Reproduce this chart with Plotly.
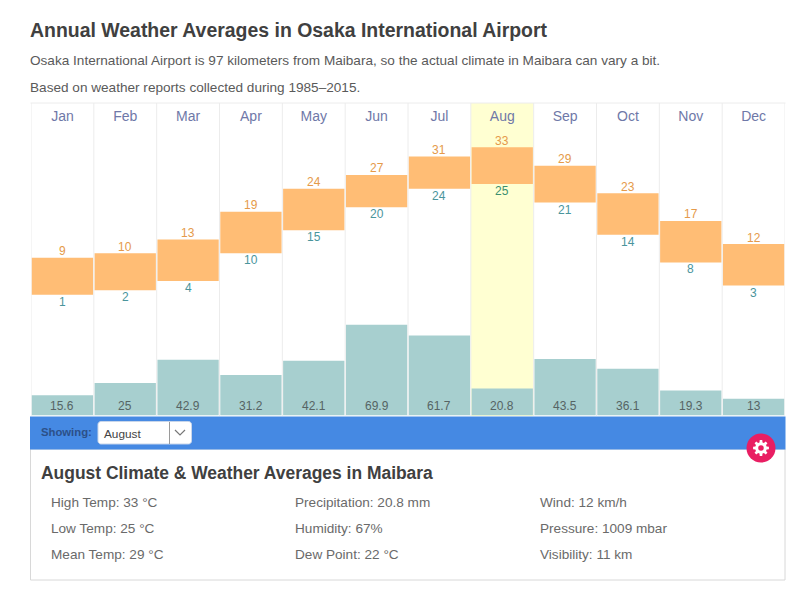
import math
import plotly.graph_objects as go

months = ["Jan","Feb","Mar","Apr","May","Jun","Jul","Aug","Sep","Oct","Nov","Dec"]
high_temp = [9,10,13,19,24,27,31,33,29,23,17,12]
low_temp = [1,2,4,10,15,20,24,25,21,14,8,3]
precip = [15.6,25,42.9,31.2,42.1,69.9,61.7,20.8,43.5,36.1,19.3,13]
precip_labels = ["15.6","25","42.9","31.2","42.1","69.9","61.7","20.8","43.5","36.1","19.3","13"]
selected = "August"
details = [
    ["High Temp: 33 °C","Low Temp: 25 °C","Mean Temp: 29 °C"],
    ["Precipitation: 20.8 mm","Humidity: 67%","Dew Point: 22 °C"],
    ["Wind: 12 km/h","Pressure: 1009 mbar","Visibility: 11 km"],
]

W, H = 800, 606
FONT = "Liberation Sans, Arial, sans-serif"
ORANGE, TEAL = "#ffbd75", "#a7cfcf"
def px(x): return x / W
def py(y): return 1 - y / H

fig = go.Figure()
diff = [h - l for h, l in zip(high_temp, low_temp)]
fig.add_bar(x=months, y=precip, yaxis="y2", marker=dict(color=TEAL, line_width=0), width=0.975, hoverinfo="skip")
fig.add_bar(x=months, y=diff, base=low_temp, marker=dict(color=ORANGE, line_width=0), width=0.975, hoverinfo="skip")

ann = []
for m, h, l, p, pl in zip(months, high_temp, low_temp, precip, precip_labels):
    ann.append(dict(xref="x", yref="y", x=m, y=h, text=str(h), showarrow=False, yanchor="middle", yshift=6.5, borderpad=0,
                    font=dict(size=12, color="#e59a4a", family=FONT)))
    ann.append(dict(xref="x", yref="y", x=m, y=l, text=str(l), showarrow=False, yanchor="middle", yshift=-7, borderpad=0,
                    font=dict(size=12, color="#3c8f6e" if m == "Aug" else "#4a959c", family=FONT)))
    ann.append(dict(xref="x", yref="y2", x=m, y=0, text=pl, showarrow=False, yanchor="middle", yshift=9.5, borderpad=0,
                    font=dict(size=12, color="#566464", family=FONT)))

shapes = []
aug = months.index("Aug")
shapes.append(dict(type="rect", xref="x", yref="paper", x0=aug - .5, x1=aug + .5, y0=py(416), y1=py(103),
                   fillcolor="#ffffd2", line_width=0, layer="below"))
for i in range(13):
    shapes.append(dict(type="line", xref="x", yref="paper", x0=i - .5, x1=i - .5, y0=py(416), y1=py(103),
                       line=dict(color="#ececec", width=1), layer="below"))
shapes.append(dict(type="line", xref="paper", yref="paper", x0=px(30.5), x1=px(785.5), y0=py(103), y1=py(103),
                   line=dict(color="#ececec", width=1), layer="below"))
# blue band and details panel
shapes.append(dict(type="rect", xref="paper", yref="paper", x0=px(30.5), x1=px(785), y0=py(580), y1=py(449),
                   fillcolor="white", line=dict(color="#d8d8d8", width=1), layer="above"))
shapes.append(dict(type="rect", xref="paper", yref="paper", x0=px(30), x1=px(785.5), y0=py(449.5), y1=py(416.5),
                   fillcolor="#4589e3", line_width=0, layer="above"))

def abs_path(points, close=False):
    s = "M" + " L".join(f"{px(x):.5f},{py(y):.5f}" for x, y in points)
    return s + (" Z" if close else "")

def round_rect(x0, y0, x1, y1, r):
    pts = []
    for cx, cy, a0 in ((x1 - r, y0 + r, -90), (x1 - r, y1 - r, 0), (x0 + r, y1 - r, 90), (x0 + r, y0 + r, 180)):
        for k in range(7):
            a = math.radians(a0 + 15 * k)
            pts.append((cx + r * math.cos(a), cy + r * math.sin(a)))
    return abs_path(pts, True)

shapes.append(dict(type="path", xref="paper", yref="paper", path=round_rect(98, 421.5, 191.5, 444, 3),
                   fillcolor="white", line=dict(color="#c9d6ea", width=1), layer="above"))
shapes.append(dict(type="line", xref="paper", yref="paper", x0=px(169.5), x1=px(169.5), y0=py(422), y1=py(444),
                   line=dict(color="#9a9a9a", width=1), layer="above"))
shapes.append(dict(type="path", xref="paper", yref="paper", path=abs_path([(175, 430), (180, 435), (185, 430)]),
                   line=dict(color="#777777", width=1.2), layer="above"))
# settings button
cx, cy, R = 761, 448, 14.5
shapes.append(dict(type="circle", xref="paper", yref="paper", x0=px(cx - R), x1=px(cx + R), y0=py(cy + R), y1=py(cy - R),
                   fillcolor="#e91e63", line_width=0, layer="above"))
gear = []
teeth = 8
for t in range(teeth):
    base = t * 360 / teeth
    for d, r in ((-15, 5.8), (-9, 8), (9, 8), (15, 5.8)):
        a = math.radians(base + d)
        gear.append((cx + r * math.cos(a), cy + r * math.sin(a)))
shapes.append(dict(type="path", xref="paper", yref="paper", path=abs_path(gear, True), fillcolor="white", line_width=0, layer="above"))
shapes.append(dict(type="circle", xref="paper", yref="paper", x0=px(cx - 2.8), x1=px(cx + 2.8), y0=py(cy + 2.8), y1=py(cy - 2.8),
                   fillcolor="#e91e63", line_width=0, layer="above"))

def text(x, y, s, size, color, bold=False):
    ann.append(dict(xref="paper", yref="paper", x=px(x - 1), y=py(y), text=f"<b>{s}</b>" if bold else s, showarrow=False,
                    xanchor="left", yanchor="middle", borderpad=0,
                    font=dict(size=size, color=color, family=FONT)))

text(30, 30, "Annual Weather Averages in Osaka International Airport", 19.45, "#404040", True)
text(30, 60.5, "Osaka International Airport is 97 kilometers from Maibara, so the actual climate in Maibara can vary a bit.", 13.6, "#5a5a5a")
text(30, 87, "Based on weather reports collected during 1985–2015.", 13.6, "#5a5a5a")
text(41, 431.5, "Showing:", 11.3, "#2c5088", True)
text(104, 433.5, selected, 11.8, "#444444")
text(41, 472.5, "August Climate &amp; Weather Averages in Maibara", 17.45, "#404040", True)
for col, x in zip(details, (51, 295, 540)):
    for s, y in zip(col, (502, 528, 554)):
        text(x, y, s, 13.6, "#6a6a6a")

fig.update_layout(
    width=W, height=H, margin=dict(l=0, r=0, t=0, b=0), paper_bgcolor="white", plot_bgcolor="rgba(0,0,0,0)",
    barmode="overlay", showlegend=False, shapes=shapes, annotations=ann,
    xaxis=dict(domain=[px(31), px(785)], type="category", categoryorder="array", categoryarray=months, range=[-.5, 11.5],
               side="top", anchor="y", ticklabelposition="inside", ticklen=0, showgrid=False, showline=False, zeroline=False,
               ticklabelstandoff=5, tickfont=dict(size=14, color="#6f78a8", family=FONT)),
    yaxis=dict(domain=[py(415.5), py(103)], range=[-25.2, 42.6], visible=False),
    yaxis2=dict(domain=[py(415.5), py(103)], range=[0, 240.8], visible=False, overlaying="y"),
)
fig.write_html("out.html", post_script="document.body.style.margin='0';document.body.style.overflow='hidden';",
               config=dict(displayModeBar=False))
